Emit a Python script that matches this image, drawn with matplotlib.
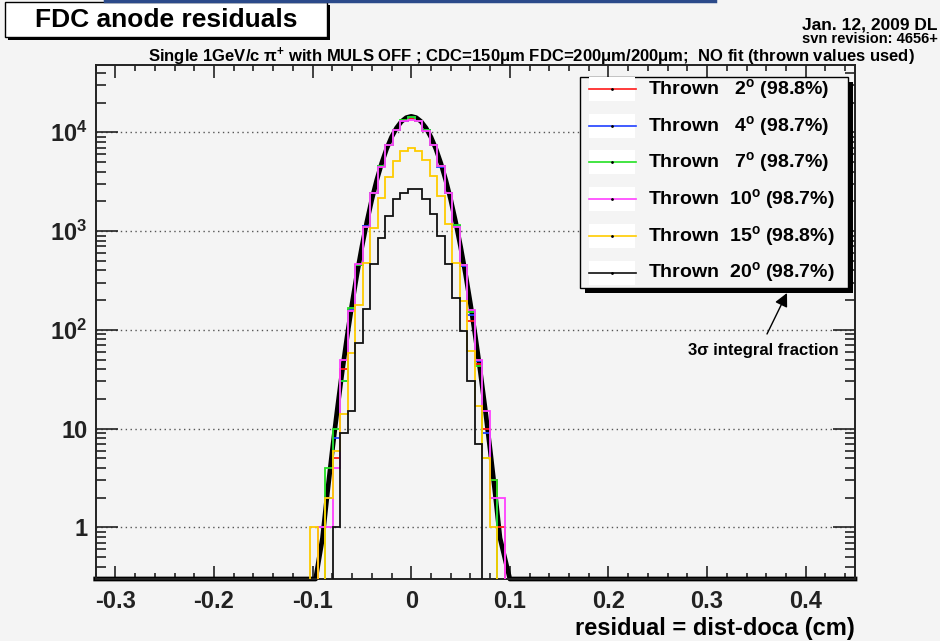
import numpy as np
import matplotlib.pyplot as plt
from matplotlib.patches import Rectangle, FancyArrowPatch
from matplotlib.lines import Line2D
from matplotlib.ticker import FixedLocator, LogLocator, MultipleLocator, FuncFormatter, NullFormatter

plt.rcParams['font.family'] = ['Liberation Sans', 'DejaVu Sans']
plt.rcParams['font.weight'] = 'bold'
plt.rcParams['mathtext.fontset'] = 'custom'
plt.rcParams['mathtext.rm'] = 'Liberation Sans:bold'
plt.rcParams['mathtext.bf'] = 'Liberation Sans:bold'
plt.rcParams['mathtext.it'] = 'Liberation Sans:bold'
plt.rcParams['mathtext.default'] = 'bf'

# bins are centred on k * BIN_WIDTH, k = -13 .. 13
BIN_WIDTH = 0.0076
bin_k = np.arange(-13, 14)

angles = [2, 4, 7, 10, 15, 20]
fractions = [98.8, 98.7, 98.7, 98.7, 98.8, 98.7]
colors = ['#ff1a1a', '#2040ff', '#22e022', '#ff40ff', '#ffcc00', '#111111']

counts_2 = [0, 1, 2, 5, 40, 160, 450, 1120, 2420, 4560, 7450, 10600, 13000, 14100,
            13100, 10500, 7400, 4550, 2450, 1130, 450, 124, 45, 10, 3, 1, 0]
counts_4 = [0, 1, 2, 8, 30, 158, 455, 1130, 2440, 4580, 7400, 10550, 13100, 14400,
            13000, 10600, 7450, 4500, 2430, 1120, 445, 140, 48, 9, 2, 0, 0]
counts_7 = [0, 0, 4, 10, 30, 165, 448, 1110, 2450, 4550, 7460, 10500, 13200, 14200,
            13050, 10550, 7400, 4560, 2440, 1150, 455, 150, 43, 5, 3, 0, 0]
counts_10 = [0, 1, 1, 4, 49, 155, 460, 1100, 2410, 4500, 7350, 10500, 12900, 13300,
             13000, 10400, 7350, 4520, 2420, 1110, 450, 160, 50, 15, 2, 2, 0]
counts_15 = [1, 0, 2, 6, 14, 58, 177, 480, 1080, 2180, 3540, 5100, 6440, 6950,
             6440, 5200, 3650, 2250, 1170, 480, 195, 61, 17, 5, 1, 0, 0]
counts_20 = [0, 0, 0, 1, 9, 15, 74, 162, 460, 855, 1410, 2090, 2450, 2690,
             2650, 2090, 1480, 890, 460, 210, 97, 30, 7, 0, 0, 0, 0]
all_counts = [counts_2, counts_4, counts_7, counts_10, counts_15, counts_20]

# thrown-resolution curve (thick black)
curve_x = [-0.32, -0.097, -0.09, -0.085, -0.08, -0.075, -0.07, -0.065, -0.06, -0.055,
           -0.05, -0.045, -0.04, -0.035, -0.03, -0.025, -0.02, -0.015, -0.01, -0.005,
           0.0, 0.005, 0.01, 0.015, 0.02, 0.025, 0.03, 0.035, 0.04, 0.045,
           0.05, 0.055, 0.06, 0.065, 0.07, 0.075, 0.08, 0.085, 0.09, 0.1, 0.45]
curve_y = [0.3, 0.3, 0.78, 2.25, 6.1, 15.7, 38, 86, 184, 369,
           698, 1240, 2080, 3280, 4860, 6790, 8930, 11040, 12840, 14070,
           14500, 14070, 12840, 11040, 8930, 6790, 4860, 3280, 2080, 1240,
           698, 369, 184, 86, 38, 15.7, 6.1, 2.25, 0.78, 0.3, 0.3]

W, H = 940, 641
BG = '#f4f4f4'


def fpos(x, y):
    return x / W, 1 - y / H


fig = plt.figure(figsize=(W / 100, H / 100), dpi=100, facecolor=BG)
ax = fig.add_axes([95.7 / W, 1 - 579 / H, (855 - 95.7) / W, (579 - 65) / H])
ax.set_facecolor(BG)

ax.plot(curve_x, curve_y, color='black', lw=3.4, zorder=2, clip_on=False,
        solid_joinstyle='round')

edges = (np.append(bin_k, bin_k[-1] + 1) - 0.5) * BIN_WIDTH
for counts, col in zip(all_counts, colors):
    vals = np.array(counts, dtype=float)
    vals[vals <= 0] = 1e-3
    ax.stairs(vals, edges, baseline=1e-3, color=col, lw=1.3, zorder=3)

ax.set_yscale('log')
ax.set_xlim(-0.32, 0.45)
ax.set_ylim(0.3, 4.8e4)

ax.xaxis.set_major_locator(MultipleLocator(0.1))
ax.xaxis.set_minor_locator(MultipleLocator(0.02))
ax.xaxis.set_major_formatter(FuncFormatter(lambda v, p: '0' if abs(v) < 1e-9 else f'{v:.1f}'))

ylabels = {1: '1', 10: '10', 100: r'$10^{2}$', 1000: r'$10^{3}$', 10000: r'$10^{4}$'}
ax.yaxis.set_major_locator(FixedLocator(list(ylabels)))
ax.yaxis.set_major_formatter(FuncFormatter(lambda v, p: ylabels.get(int(round(v)), '')))
ax.yaxis.set_minor_locator(LogLocator(base=10, subs=np.arange(2, 10)))
ax.yaxis.set_minor_formatter(NullFormatter())

ax.tick_params(which='both', direction='in', top=True, right=True, width=1.2, colors='#222222')
ax.tick_params(axis='y', which='major', length=15.5, pad=6, labelsize=17)
ax.tick_params(axis='y', which='minor', length=7.5)
ax.tick_params(axis='x', which='major', length=9.5, pad=8, labelsize=17)
ax.tick_params(axis='x', which='minor', length=4)
for s in ax.spines.values():
    s.set_linewidth(1.4)
    s.set_color('#222222')

ax.yaxis.grid(True, which='major', linestyle=(0, (1, 2.5)), color='#555555', lw=1.0)
ax.set_axisbelow(True)

ax.set_xlabel('residual = dist-doca (cm)', fontsize=17, fontweight='bold', loc='right', labelpad=3)

# legend, drawn ROOT style with a solid shadow
lx0, ly0, lx1, ly1 = 580, 77, 848, 288
fig.patches.append(Rectangle(fpos(lx0 + 5, ly1 + 5), (lx1 - lx0) / W, (ly1 - ly0) / H,
                             transform=fig.transFigure, facecolor='black', edgecolor='none', zorder=5))
fig.patches.append(Rectangle(fpos(lx0, ly1), (lx1 - lx0) / W, (ly1 - ly0) / H,
                             transform=fig.transFigure, facecolor=BG, edgecolor='black', lw=1.0, zorder=6))
for i, (a, f, col) in enumerate(zip(angles, fractions, colors)):
    yc = 89 + i * 36.7
    fig.patches.append(Rectangle(fpos(589, yc + 12), 46 / W, 24 / H, transform=fig.transFigure,
                                 facecolor='white', edgecolor='none', zorder=7))
    fig.add_artist(Line2D([589 / W, 636 / W], [1 - yc / H] * 2, color=col, lw=1.2, zorder=8))
    fig.add_artist(Line2D([612 / W], [1 - yc / H], marker='.', ms=2, color='black', zorder=9))
    pad = '  ' if a < 10 else ' '
    fig.text(*fpos(648, yc), f'Thrown {pad}{a}$^{{o}}$ ({f}%)', fontsize=14, fontweight='bold',
             va='center', ha='left', zorder=9)

fig.text(*fpos(688, 350), '3σ integral fraction', fontsize=12, fontweight='bold', va='center', ha='left')
fig.add_artist(FancyArrowPatch(fpos(767, 334), fpos(787, 293), transform=fig.transFigure,
                               arrowstyle='-|>,head_length=8,head_width=4', color='black', lw=1.0,
                               shrinkA=0, shrinkB=0, zorder=10))

# title box
fig.patches.append(Rectangle(fpos(8, 40), 322 / W, 35 / H, transform=fig.transFigure,
                             facecolor='black', edgecolor='none'))
fig.patches.append(Rectangle(fpos(5, 37), 322 / W, 35 / H, transform=fig.transFigure,
                             facecolor='white', edgecolor='black', lw=1.0))
fig.text(*fpos(166, 20), 'FDC anode residuals', fontsize=19, fontweight='bold', ha='center', va='center')

fig.add_artist(Line2D([105 / W, 715 / W], [1 - 1 / H] * 2, color='#2b4a8a', lw=2.5))

fig.text(*fpos(938, 25), 'Jan. 12, 2009 DL', fontsize=12.5, fontweight='bold', ha='right', va='center')
fig.text(*fpos(938, 39), 'svn revision: 4656+', fontsize=10.5, fontweight='bold', ha='right', va='center')
fig.text(*fpos(531, 57), r'Single 1GeV/c $\pi^{+}$ with MULS OFF ; CDC=150μm FDC=200μm/200μm;  NO fit (thrown values used)',
         fontsize=12, fontweight='bold', ha='center', va='center')

fig.savefig('out.png', dpi=100, facecolor=BG)
